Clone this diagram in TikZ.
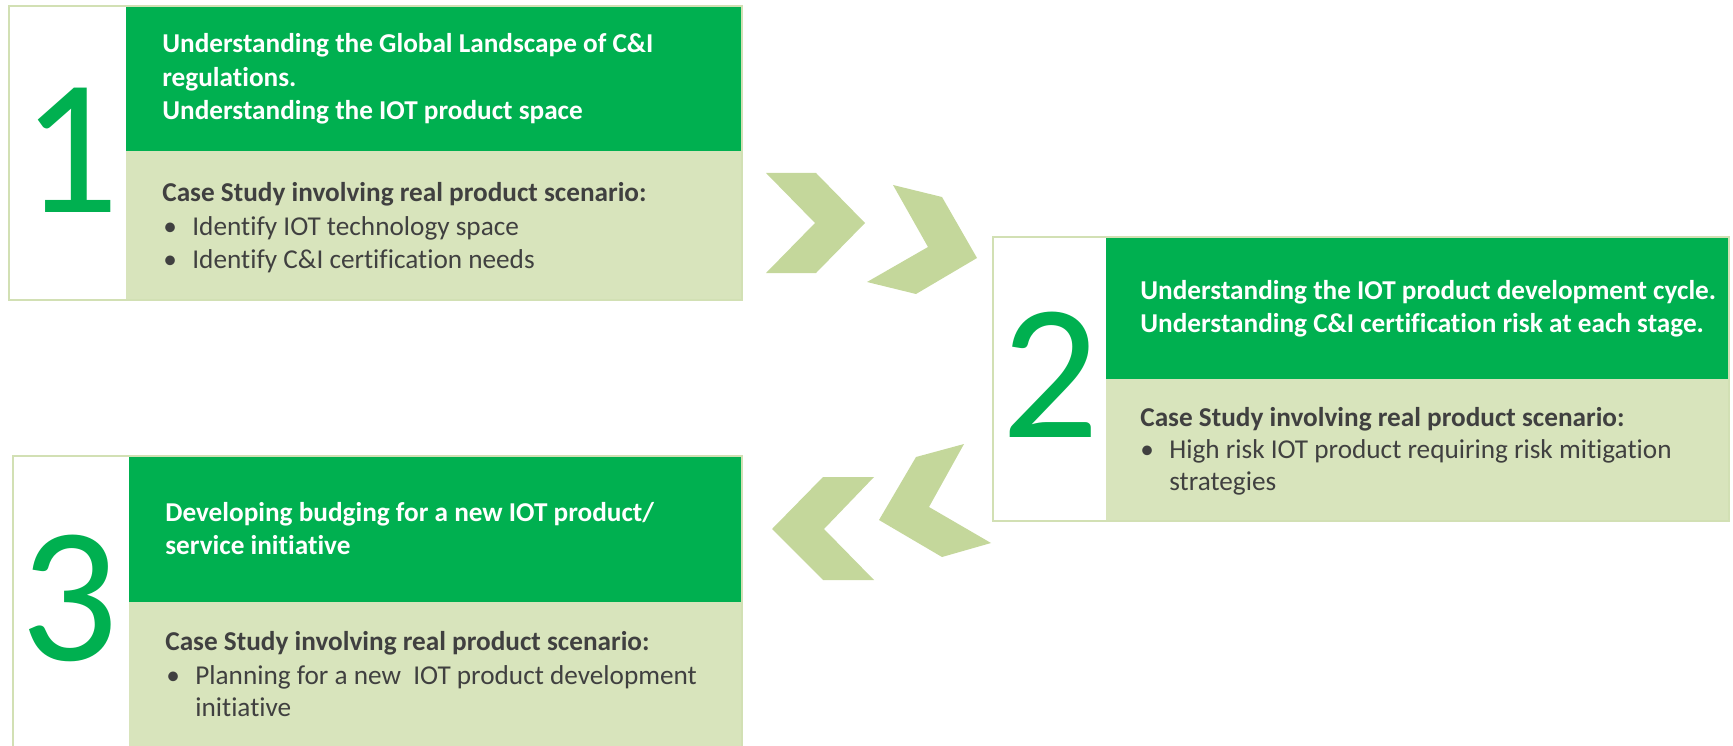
\documentclass[tikz,border=0pt]{standalone}
\usepackage{fontspec}
\setmainfont[Ligatures={NoCommon}]{Carlito}
\definecolor{stepgreen}{HTML}{00B050}
\definecolor{casegreen}{HTML}{D8E4BC}
\definecolor{arrowgreen}{HTML}{C4D79B}
\definecolor{edgegreen}{HTML}{D2E0B4}
\definecolor{casegray}{HTML}{404040}

\tikzset{
  headtext/.style={anchor=base west, inner sep=0, text=white, font=\fontsize{15.5}{16}\selectfont\bfseries},
  casehead/.style={anchor=base west, inner sep=0, text=casegray, font=\fontsize{15.5}{16}\selectfont\bfseries},
  casetext/.style={anchor=base west, inner sep=0, text=casegray, font=\fontsize{15.5}{16}\selectfont},
  bignum/.style={inner sep=0, text=stepgreen, font=\fontsize{110}{110}\selectfont},
  chevron/.style={fill=arrowgreen, draw=none},
  boxedge/.style={draw=edgegreen, line width=0.3mm},
}

\begin{document}
\begin{tikzpicture}[x=0.2mm,y=-0.2mm]
\useasboundingbox (0,0) rectangle (1733,746);

% 1st box:
\fill[stepgreen] (126,6) rectangle (742,151);
\fill[casegreen] (126,151) rectangle (742,300);
\draw[boxedge] (9,6) rectangle (742,300);
\node[bignum] (n1) at (70,150) {1};
\node[headtext] (h1a) at (162,53) {Understanding the Global Landscape of C\&I};
\node[headtext] (h1b) at (162,87) {regulations.};
\node[headtext] (h1c) at (162,120) {Understanding the IOT product space};
\node[casehead] (c1) at (162,202) {Case Study involving real product scenario:};
\node[casetext] (d1a) at (163,235) {•};
\node[casetext] (i1a) at (192,235) {Identify IOT technology space};
\node[casetext] (d1b) at (163,268) {•};
\node[casetext] (i1b) at (192,268) {Identify C\&I certification needs};

% arrows 1 -> 2:
\fill[chevron] (766,173) -- (816,173) -- (865,223) -- (816,273) -- (766,273) -- (815,223) -- cycle;
\fill[chevron] (893,185) -- (942,197) -- (977,258) -- (916,294) -- (867,282) -- (928,247) -- cycle;

% 2nd box:
\fill[stepgreen] (1106,237) rectangle (1729,379);
\fill[casegreen] (1106,379) rectangle (1729,521);
\draw[boxedge] (993,237) rectangle (1729,521);
\node[bignum] (n2) at (1050,375) {2};
\node[headtext] (h2a) at (1140,299) {Understanding the IOT product development cycle.};
\node[headtext] (h2b) at (1140,332) {Understanding C\&I certification risk at each stage.};
\node[casehead] (c2) at (1140,426) {Case Study involving real product scenario:};
\node[casetext] (d2a) at (1140,458) {•};
\node[casetext] (i2a) at (1169,458) {High risk IOT product requiring risk mitigation};
\node[casetext] (i2b) at (1169,490) {strategies};

% arrows 2 -> 3:
\fill[chevron] (772,529) -- (823,477) -- (874,477) -- (824,529) -- (874,580) -- (823,580) -- cycle;
\fill[chevron] (879,520) -- (916,457) -- (964,444) -- (929,507) -- (991,543) -- (942,557) -- cycle;

% 3rd box:
\fill[stepgreen] (129,456) rectangle (742,602);
\fill[casegreen] (129,602) rectangle (742,750);
\draw[boxedge] (13,750) -- (13,456) -- (742,456) -- (742,750);
\node[bignum] (n3) at (69,598) {3};
\node[headtext] (h3a) at (165,521) {Developing budging for a new IOT product/};
\node[headtext] (h3b) at (165,554) {service initiative};
\node[casehead] (c3) at (165,650) {Case Study involving real product scenario:};
\node[casetext] (d3a) at (166,684) {•};
\node[casetext] (i3a) at (195,684) {Planning for a new\ \ IOT product development};
\node[casetext] (i3b) at (195,716) {initiative};

\end{tikzpicture}
\end{document}
